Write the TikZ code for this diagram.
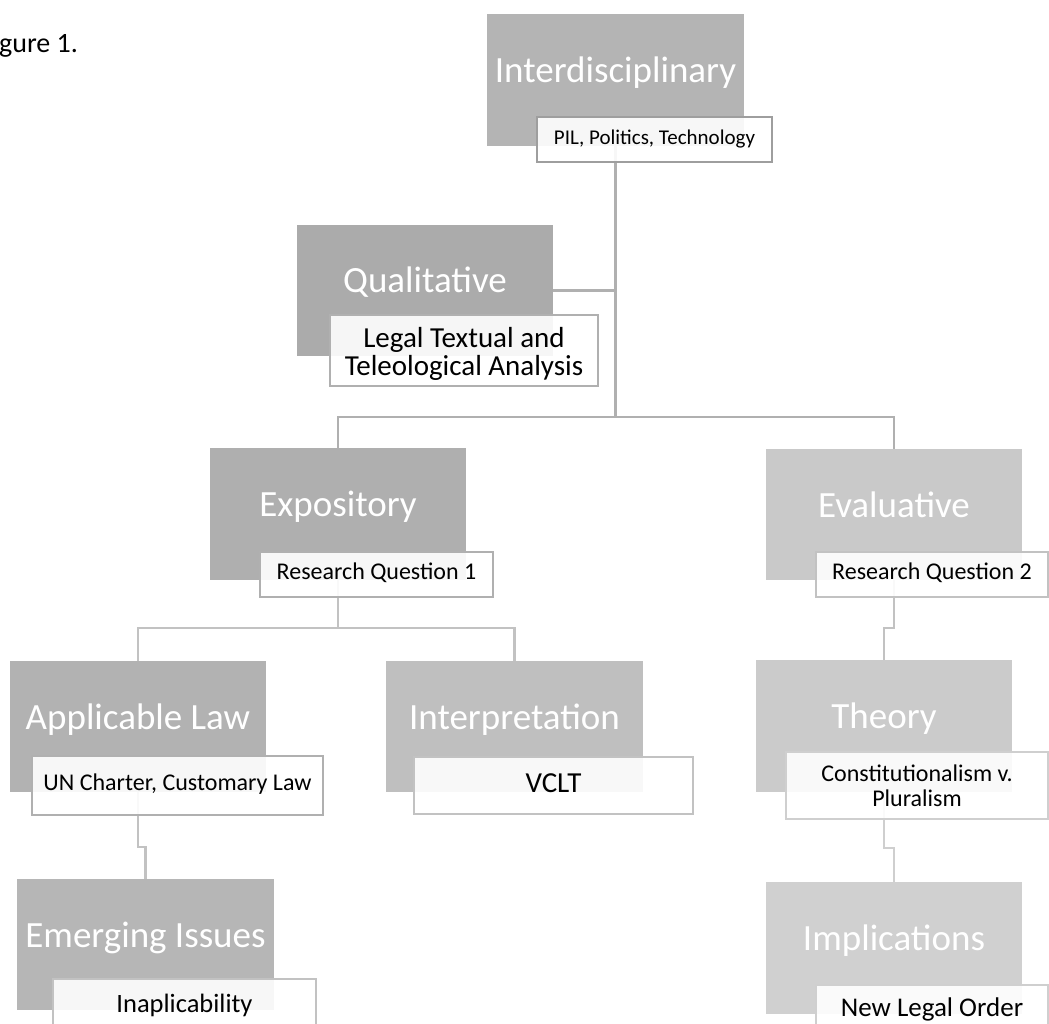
\documentclass[tikz,border=0pt]{standalone}
\usepackage{fontspec}
\setmainfont{Carlito}
\definecolor{cI}{HTML}{B4B4B4}
\definecolor{cQ}{HTML}{ABABAB}
\definecolor{cX}{HTML}{AFAFAF}
\definecolor{cE}{HTML}{C9C9C9}
\definecolor{cA}{HTML}{B2B2B2}
\definecolor{cIn}{HTML}{BFBFBF}
\definecolor{cEm}{HTML}{B6B6B6}
\definecolor{cT}{HTML}{CBCBCB}
\definecolor{cIm}{HTML}{D0D0D0}
\definecolor{lnA}{HTML}{B0B0B0}
\definecolor{lnB}{HTML}{C2C2C2}
\definecolor{lnC}{HTML}{CFCFCF}
\begin{document}
\begin{tikzpicture}[x=1pt,y=-1pt,
  graybox/.style={rectangle, minimum width=256pt, minimum height=131pt, inner sep=0pt,
    text=white, font=\fontsize{37}{44}\selectfont, text height=25pt, text depth=20pt},
  subbox/.style={rectangle, draw, line width=2.5pt, fill=white, fill opacity=0.9,
    text opacity=1, inner sep=0pt, text=black},
  oneline/.style={text height=#1, text depth=0pt},
  conn/.style={line width=2.5pt},
  figlabel/.style={font=\fontsize{28}{32}\selectfont, anchor=base west, inner sep=0pt}
]
\useasboundingbox (0,0) rectangle (1049,1024);

\node[figlabel] (fig) at (-1,53) {gure 1.};

% junction coordinates
\coordinate (j1) at (615,417);
\coordinate (jX) at (338,628);
\coordinate (jE) at (894,628);
\coordinate (jA) at (138,847);
\coordinate (jT) at (884,848);

% gray boxes
\node[graybox, fill=cI]  (gI)  at (615.5,80)   {Interdisciplinary};
\node[graybox, fill=cQ]  (gQ)  at (425,290.5)  {Qualitative};
\node[graybox, fill=cX]  (gX)  at (338,514)    {Expository};
\node[graybox, fill=cE]  (gE)  at (894,514.5)  {Evaluative};
\node[graybox, fill=cA]  (gA)  at (138,726.5)  {Applicable Law};
\node[graybox, fill=cIn] (gIn) at (514.5,726.5){Interpretation};
\node[graybox, fill=cT]  (gT)  at (884,726)    {Theory};
\node[graybox, fill=cEm] (gEm) at (145.5,944.5){Emerging Issues};
\node[graybox, fill=cIm] (gIm) at (894,948)    {Implications};

% connectors
\draw[conn, lnA] (gI.south) -- (gI.south |- j1);
\draw[conn, lnA] (gI.south |- j1) -| (gX.north);
\draw[conn, lnA] (gI.south |- j1) -| (gE.north);
\draw[conn, lnA] (gQ.east) -- (gQ.east -| gI.south);
\draw[conn, lnB] (gX.south) -- (gX.south |- jX);
\draw[conn, lnB] (gX.south |- jX) -| (gA.north);
\draw[conn, lnB] (gX.south |- jX) -| (gIn.north);
\draw[conn, lnB] (gE.south) -- (gE.south |- jE) -| (gT.north);
\draw[conn, lnB] (gA.south) -- (gA.south |- jA) -| (gEm.north);
\draw[conn, lnC] (gT.south) -- (gT.south |- jT) -| (gIm.north);

% redraw gray boxes above connectors
\fill[cI]  (gI.south west)  rectangle (gI.north east);
\fill[cQ]  (gQ.south west)  rectangle (gQ.north east);
\fill[cX]  (gX.south west)  rectangle (gX.north east);
\fill[cE]  (gE.south west)  rectangle (gE.north east);
\fill[cA]  (gA.south west)  rectangle (gA.north east);
\fill[cIn] (gIn.south west) rectangle (gIn.north east);
\fill[cT]  (gT.south west)  rectangle (gT.north east);
\fill[cEm] (gEm.south west) rectangle (gEm.north east);
\fill[cIm] (gIm.south west) rectangle (gIm.north east);
\node[graybox] at (gI)  {Interdisciplinary};
\node[graybox] at (gQ)  {Qualitative};
\node[graybox] at (gX)  {Expository};
\node[graybox] at (gE)  {Evaluative};
\node[graybox] at (gA)  {Applicable Law};
\node[graybox] at (gIn) {Interpretation};
\node[graybox] at (gT)  {Theory};
\node[graybox] at (gEm) {Emerging Issues};
\node[graybox] at (gIm) {Implications};

% sub boxes
\node[subbox, oneline=9.5pt, draw=lnA!90!black, minimum width=235pt, minimum height=45pt,
  font=\fontsize{21}{25}\selectfont] (sI) at (654.5,139.5) {PIL, Politics, Technology};
\node[subbox, draw=lnA, minimum width=268pt, minimum height=71pt, align=center,
  font=\fontsize{29}{28}\selectfont] (sQ) at (464,350.5) {\rule{0pt}{27pt}Legal Textual and\\Teleological Analysis};
\node[subbox, oneline=10.8pt, draw=lnA, minimum width=233pt, minimum height=45pt,
  font=\fontsize{24}{28}\selectfont] (sX) at (376.5,574.5) {Research Question 1};
\node[subbox, oneline=10.8pt, draw=lnB, minimum width=232pt, minimum height=45pt,
  font=\fontsize{24}{28}\selectfont] (sE) at (932,574.5) {Research Question 2};
\node[subbox, oneline=10.8pt, draw=lnA, minimum width=291pt, minimum height=59pt,
  font=\fontsize{24}{28}\selectfont] (sA) at (177.5,785.5) {UN Charter, Customary Law};
\node[subbox, oneline=13pt, draw=lnB, minimum width=279pt, minimum height=57pt,
  font=\fontsize{29}{34}\selectfont] (sIn) at (553.5,785.5) {VCLT};
\node[subbox, draw=lnC, minimum width=262pt, minimum height=67pt, align=center,
  font=\fontsize{24}{25}\selectfont] (sT) at (917,785.5) {Constitutionalism v.\\Pluralism};
\node[subbox, oneline=12pt, draw=lnB, minimum width=263pt, minimum height=55pt,
  font=\fontsize{26.5}{31}\selectfont] (sEm) at (184.5,1006.5) {Inaplicability};
\node[subbox, oneline=12.2pt, draw=lnC, minimum width=232pt, minimum height=50pt,
  font=\fontsize{27}{32}\selectfont] (sIm) at (932,1010) {New Legal Order};
\end{tikzpicture}
\end{document}
